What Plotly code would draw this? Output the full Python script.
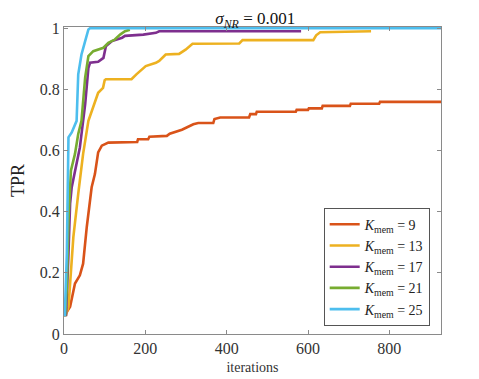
import plotly.graph_objects as go

# TPR vs iterations for different memory sizes (sigma_NR = 0.001)
x9 = [0, 2, 15, 27, 39, 47, 56, 68, 76, 84, 93, 109, 180, 182, 207, 210, 253, 260, 290, 300, 318, 330, 367, 370, 384,
      455, 458, 472, 474, 570, 572, 600, 602, 634, 636, 703, 705, 775, 777, 930]
y9 = [0.062, 0.062, 0.089, 0.165, 0.192, 0.23, 0.35, 0.48, 0.523, 0.594, 0.616, 0.626, 0.628, 0.637, 0.637, 0.645,
      0.648, 0.655, 0.668, 0.675, 0.686, 0.69, 0.69, 0.703, 0.708, 0.708, 0.719, 0.719, 0.727, 0.727, 0.733, 0.733,
      0.738, 0.738, 0.746, 0.746, 0.753, 0.753, 0.759, 0.759]

x13 = [0, 5, 11, 23, 35, 47, 60, 68, 84, 96, 100, 103, 166, 178, 201, 226, 234, 250, 283, 299, 316, 431, 439, 613,
       620, 630, 755]
y13 = [0.062, 0.062, 0.089, 0.317, 0.458, 0.589, 0.697, 0.73, 0.789, 0.805, 0.83, 0.833, 0.833, 0.849, 0.876, 0.887,
       0.893, 0.914, 0.916, 0.93, 0.949, 0.95, 0.961, 0.961, 0.977, 0.987, 0.99]

x17 = [0, 5, 11, 15, 19, 31, 39, 52, 60, 64, 84, 97, 103, 118, 143, 150, 195, 226, 234, 583]
y17 = [0.062, 0.062, 0.263, 0.426, 0.48, 0.556, 0.61, 0.751, 0.87, 0.887, 0.89, 0.903, 0.941, 0.958, 0.969, 0.975,
       0.979, 0.985, 0.99, 0.99]

x21 = [0, 3, 7, 11, 17, 27, 35, 43, 52, 60, 72, 97, 109, 125, 138, 150, 162]
y21 = [0.062, 0.062, 0.154, 0.371, 0.534, 0.589, 0.654, 0.697, 0.838, 0.909, 0.925, 0.936, 0.952, 0.963, 0.979,
       0.99, 0.995]

x25 = [0, 2, 7, 9, 11, 19, 27, 31, 35, 43, 52, 60, 64, 930]
y25 = [0.062, 0.062, 0.263, 0.48, 0.643, 0.659, 0.686, 0.697, 0.849, 0.914, 0.958, 0.996, 1.0, 1.0]

series = [
    (x9, y9, '9', '#D95319'),
    (x13, y13, '13', '#EDB120'),
    (x17, y17, '17', '#7E2F8E'),
    (x21, y21, '21', '#77AC30'),
    (x25, y25, '25', '#4DBEEE'),
]

fig = go.Figure()
for xs, ys, k, c in series:
    fig.add_trace(go.Scatter(x=xs, y=ys, mode='lines', line=dict(color=c, width=2.6),
                             name='<i>K</i><sub>mem</sub> = ' + k))

serif = 'Liberation Serif'
axis_common = dict(showline=True, linecolor='#8a8a8a', linewidth=1, mirror='ticks', ticks='inside',
                   ticklen=4, tickcolor='#8a8a8a', showgrid=False, zeroline=False, automargin=False,
                   tickfont=dict(family=serif, size=16, color='#333'))

# page body has an 8px margin, so the figure is a bit smaller than the window
fig.update_layout(
    width=471, height=371,
    margin=dict(l=56, r=38, t=19, b=45),
    paper_bgcolor='white', plot_bgcolor='white',
    font=dict(family=serif, color='#222'),
    title=dict(text='<i>σ<sub>NR</sub></i> = 0.001', x=0.525, xanchor='center', y=0.972, yanchor='middle',
               font=dict(family=serif, size=17, color='#111')),
    xaxis=dict(axis_common, range=[0, 927], tickvals=[0, 200, 400, 600, 800],
               title=dict(text='iterations', font=dict(size=14, family=serif, color='#333'), standoff=5)),
    yaxis=dict(axis_common, range=[0, 1.004], tickvals=[0, 0.2, 0.4, 0.6, 0.8, 1],
               ticktext=['0', '0.2', '0.4', '0.6', '0.8', '1'],
               title=dict(text='TPR', font=dict(size=18, family=serif, color='#222'), standoff=10)),
    legend=dict(x=0.97, y=0.027, xanchor='right', yanchor='bottom', bgcolor='white',
                bordercolor='#555', borderwidth=1, tracegroupgap=0,
                font=dict(family=serif, size=14, color='#222')),
    showlegend=True,
)

fig.write_html("out.html")
